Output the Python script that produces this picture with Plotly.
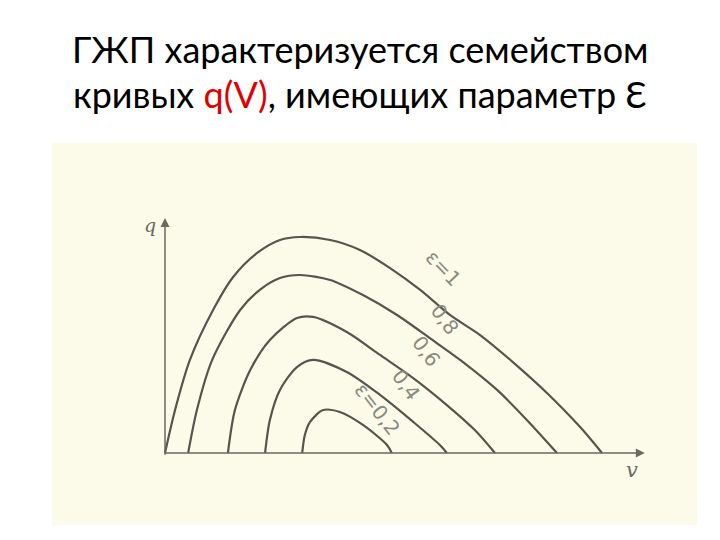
import plotly.graph_objects as go

# Curves q(V) for parameter epsilon (arbitrary units)
eps_labels = ["ε=1", "0,8", "0,6", "0,4", "ε=0,2"]

v_e10 = [0.00, 0.23, 0.57, 1.10, 1.56, 2.11, 2.63, 3.09, 3.78, 4.46, 5.15, 5.84, 6.52, 7.21, 7.96, 8.74, 9.50, 10.00]
q_e10 = [0.00, 1.99, 4.31, 6.62, 8.15, 9.26, 9.86, 10.00, 9.86, 9.40, 8.56, 7.55, 6.39, 5.46, 4.21, 2.78, 1.20, 0.00]

v_e08 = [0.53, 0.73, 1.08, 1.72, 2.17, 2.63, 3.09, 3.78, 4.53, 5.31, 6.06, 6.82, 7.60, 8.28, 8.97]
q_e08 = [0.00, 1.99, 4.31, 6.62, 7.55, 8.10, 8.24, 8.01, 7.31, 6.39, 5.32, 4.21, 2.92, 1.53, 0.00]

v_e06 = [1.44, 1.60, 1.95, 2.40, 3.02, 3.39, 4.16, 4.92, 5.68, 6.45, 7.09, 7.55]
q_e06 = [0.00, 1.99, 3.84, 5.23, 6.25, 6.30, 5.60, 4.54, 3.47, 2.22, 1.06, 0.00]

v_e04 = [2.29, 2.40, 2.63, 3.02, 3.39, 4.16, 4.92, 5.68, 6.29, 6.45]
q_e04 = [0.00, 1.53, 2.92, 3.98, 4.31, 3.75, 2.69, 1.44, 0.37, 0.00]

v_e02 = [3.14, 3.20, 3.32, 3.62, 4.00, 4.53, 5.08, 5.19]
q_e02 = [0.00, 0.83, 1.44, 1.99, 1.90, 1.30, 0.37, 0.00]

# label anchor positions (data units) and angles
label_v = [6.36, 6.40, 5.97, 5.52, 4.86]
label_q = [8.55, 6.20, 4.70, 3.15, 2.05]
label_angle = [46, 54, 54, 54, 52]

axis_v_max = 10.98
axis_q_max = 10.88

curves = [(v_e10, q_e10), (v_e08, q_e08), (v_e06, q_e06), (v_e04, q_e04), (v_e02, q_e02)]

# page body has an 8px margin: the figure is drawn 8px right/down
OFF = 8
W, H = 720 - OFF, 540 - OFF

def px(xp):
    return (xp - OFF) / W

def py(yp):
    return 1 - (yp - OFF) / H

line_col = "#57544d"
fig = go.Figure()
for (vv, qq), name in zip(curves, eps_labels):
    fig.add_trace(go.Scatter(x=vv, y=qq, mode="lines", name=name,
                             line=dict(color=line_col, width=2.2, shape="spline", smoothing=0.8),
                             showlegend=False, hoverinfo="skip"))

# scanned image background
fig.add_shape(type="rect", xref="paper", yref="paper",
              x0=px(52), x1=px(697), y0=py(525), y1=py(143),
              fillcolor="#fcfbe9", line=dict(width=0), layer="below")

# axes with arrows
fig.add_annotation(x=0, y=axis_q_max, ax=0, ay=-0.15, xref="x", yref="y", axref="x", ayref="y",
                   showarrow=True, arrowhead=2, arrowsize=1.2, arrowwidth=1.5, arrowcolor="#6a6a60", text="")
fig.add_annotation(x=axis_v_max, y=0, ax=-0.05, ay=0, xref="x", yref="y", axref="x", ayref="y",
                   showarrow=True, arrowhead=2, arrowsize=1.2, arrowwidth=1.5, arrowcolor="#6a6a60", text="")
fig.add_annotation(x=-0.34, y=10.55, xref="x", yref="y", text="<i>q</i>", showarrow=False,
                   font=dict(family="DejaVu Serif", size=19, color="#6a6a60"))
fig.add_annotation(x=10.69, y=-0.79, xref="x", yref="y", text="<i>v</i>", showarrow=False,
                   font=dict(family="DejaVu Serif", size=21, color="#6a6a60"))

for name, lv, lq, ang in zip(eps_labels, label_v, label_q, label_angle):
    fig.add_annotation(x=lv, y=lq, xref="x", yref="y", text=name, showarrow=False, textangle=ang,
                       font=dict(family="DejaVu Sans", size=20, color="#8a8a7e"))

# title
fig.add_annotation(x=px(360), y=py(49), xref="paper", yref="paper", showarrow=False,
                   xanchor="center", yanchor="middle",
                   text="ГЖП характеризуется семейством",
                   font=dict(family="Lato", size=36, color="black"))
fig.add_annotation(x=px(360), y=py(94), xref="paper", yref="paper", showarrow=False,
                   xanchor="center", yanchor="middle",
                   text="кривых <span style='color:#e00000'>q(V)</span>, имеющих параметр Ɛ",
                   font=dict(family="Lato", size=36, color="black"))

x_px0, x_scale = 165, 43.7
y_px0, y_scale = 453, 21.6
fig.update_layout(
    width=W, height=H,
    margin=dict(l=0, r=0, t=0, b=0),
    paper_bgcolor="white", plot_bgcolor="rgba(0,0,0,0)",
    xaxis=dict(range=[(OFF - x_px0) / x_scale, (720 - x_px0) / x_scale], visible=False, fixedrange=True),
    yaxis=dict(range=[(y_px0 - 540) / y_scale, (y_px0 - OFF) / y_scale], visible=False, fixedrange=True),
)
fig.write_html("out.html")
